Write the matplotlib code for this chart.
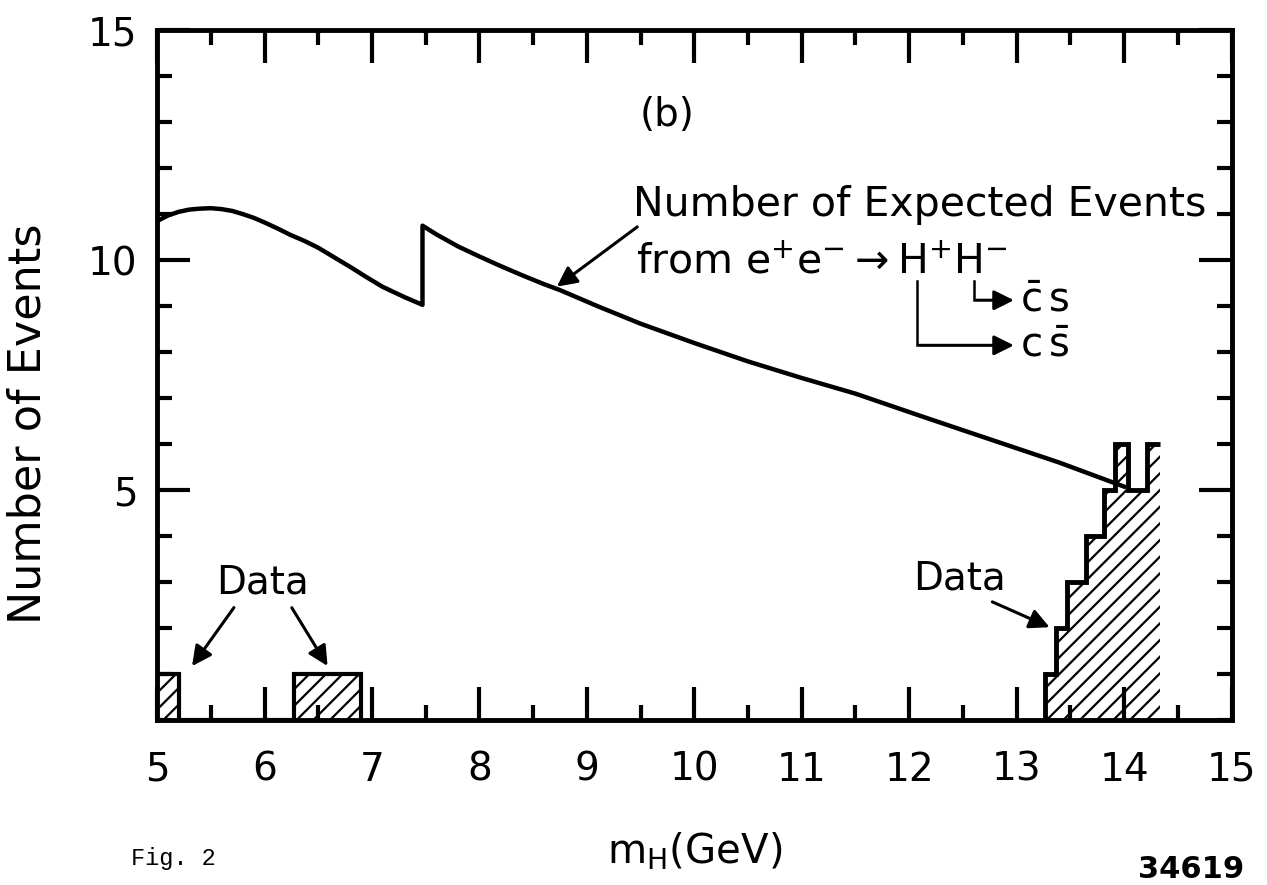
import matplotlib
matplotlib.use('Agg')
import matplotlib.pyplot as plt
import numpy as np

plt.rcParams['font.family'] = ['DejaVu Sans']
plt.rcParams['mathtext.fontset'] = 'dejavusans'
plt.rcParams['hatch.linewidth'] = 1.6

# expected events curve, jump at the c s threshold
curve_x = [5.0, 5.1, 5.2, 5.3, 5.4, 5.5, 5.6, 5.7, 5.8, 5.9, 6.0, 6.12, 6.24, 6.37,
           6.5, 6.65, 6.8, 6.95, 7.1, 7.2, 7.3, 7.4, 7.47,
           7.47, 7.6, 7.8, 8.0, 8.2, 8.4, 8.6, 8.75, 9.1, 9.5, 10.0, 10.5, 11.0, 11.5,
           12.1, 12.8, 13.4, 14.0]
curve_y = [10.85, 10.97, 11.05, 11.1, 11.12, 11.13, 11.11, 11.07, 11.0, 10.92, 10.82,
           10.69, 10.55, 10.42, 10.27, 10.06, 9.85, 9.63, 9.42, 9.31, 9.2, 9.1, 9.03,
           10.75, 10.56, 10.3, 10.08, 9.87, 9.67, 9.48, 9.35, 9.0, 8.62, 8.2, 7.8, 7.44,
           7.1, 6.62, 6.07, 5.6, 5.08]

# data histograms
low_edges = [5.0, 5.2, 6.27, 6.9]
low_counts = [1, 0, 1]
high_edges = [13.26, 13.37, 13.47, 13.65, 13.81, 13.92, 14.04, 14.21, 14.33]
high_counts = [1, 2, 3, 4, 5, 6, 5, 6]

fig = plt.figure(figsize=(12.67, 8.85), dpi=100)
ax = fig.add_axes([0.124, 0.186, 0.848, 0.780])

ax.plot(curve_x, curve_y, color='k', linewidth=3.2, solid_joinstyle='round')

ax.stairs(low_counts, low_edges, fill=True, facecolor='white', edgecolor='k',
          hatch='//', linewidth=3)
ax.stairs(high_counts, high_edges, fill=True, facecolor='white', edgecolor='k',
          hatch='//', linewidth=0)
ax.stairs(high_counts, high_edges, baseline=None, color='k', linewidth=3.5)
ax.plot([high_edges[0], high_edges[0]], [0, high_counts[0]], color='k', linewidth=3.5)

ax.set_xlim(5, 15)
ax.set_ylim(0, 15)
ax.set_xticks(np.arange(5, 16, 1))
ax.set_xticks(np.arange(5, 15, 0.5), minor=True)
ax.set_yticks([5, 10, 15])
ax.set_yticks(np.arange(0, 15, 1), minor=True)
ax.tick_params(which='both', direction='in', top=True, right=True, width=3,
               labelsize=28)
ax.tick_params(which='major', length=24, pad=14)
ax.tick_params(which='minor', length=11)
ax.tick_params(axis='x', pad=22)
for s in ax.spines.values():
    s.set_linewidth(3.5)

ax.set_ylabel('Number of Events', fontsize=32)
ax.yaxis.set_label_coords(-0.1, 0.43)
ax.set_xlabel(r'm$_\mathrm{H}$(GeV)', fontsize=29, labelpad=30)

ax.text(9.75, 13.15, '(b)', fontsize=28, ha='center', va='center')
ax.text(9.43, 11.2, 'Number of Expected Events', fontsize=29.5, ha='left', va='center')
ax.text(9.46, 9.95, r'from e$^{+}$e$^{-}$$\rightarrow$H$^{+}$H$^{-}$', fontsize=29.5,
        ha='left', va='center')

arrow = dict(arrowstyle='-|>', color='k', lw=2.2, mutation_scale=30)
ax.annotate('', xy=(8.70, 9.39), xytext=(9.49, 10.76), arrowprops=arrow)

# decay branches
ax.plot([12.6, 12.6], [9.55, 9.13], color='k', linewidth=1.8)
ax.annotate('', xy=(13.0, 9.13), xytext=(12.6, 9.13), arrowprops=arrow)
ax.plot([12.07, 12.07], [9.55, 8.15], color='k', linewidth=1.8)
ax.annotate('', xy=(13.0, 8.15), xytext=(12.07, 8.15), arrowprops=arrow)
ax.text(13.03, 9.13, r'$\bar{\mathrm{c}}\,\mathrm{s}$', fontsize=29, ha='left', va='center')
ax.text(13.03, 8.15, r'$\mathrm{c}\,\bar{\mathrm{s}}$', fontsize=29, ha='left', va='center')

# Data labels
ax.text(5.98, 3.0, 'Data', fontsize=28, ha='center', va='center')
ax.annotate('', xy=(5.31, 1.13), xytext=(5.73, 2.5), arrowprops=arrow)
ax.annotate('', xy=(6.6, 1.13), xytext=(6.24, 2.5), arrowprops=arrow)
ax.text(12.47, 3.09, 'Data', fontsize=28, ha='center', va='center')
ax.annotate('', xy=(13.33, 2.0), xytext=(12.75, 2.6), arrowprops=arrow)

fig.text(0.103, 0.03, 'Fig. 2', fontsize=17, family='Liberation Mono', ha='left', va='center')
fig.text(0.94, 0.017, '34619', fontsize=22, fontweight='bold', ha='center', va='center')

fig.savefig('out.png', dpi=100)
